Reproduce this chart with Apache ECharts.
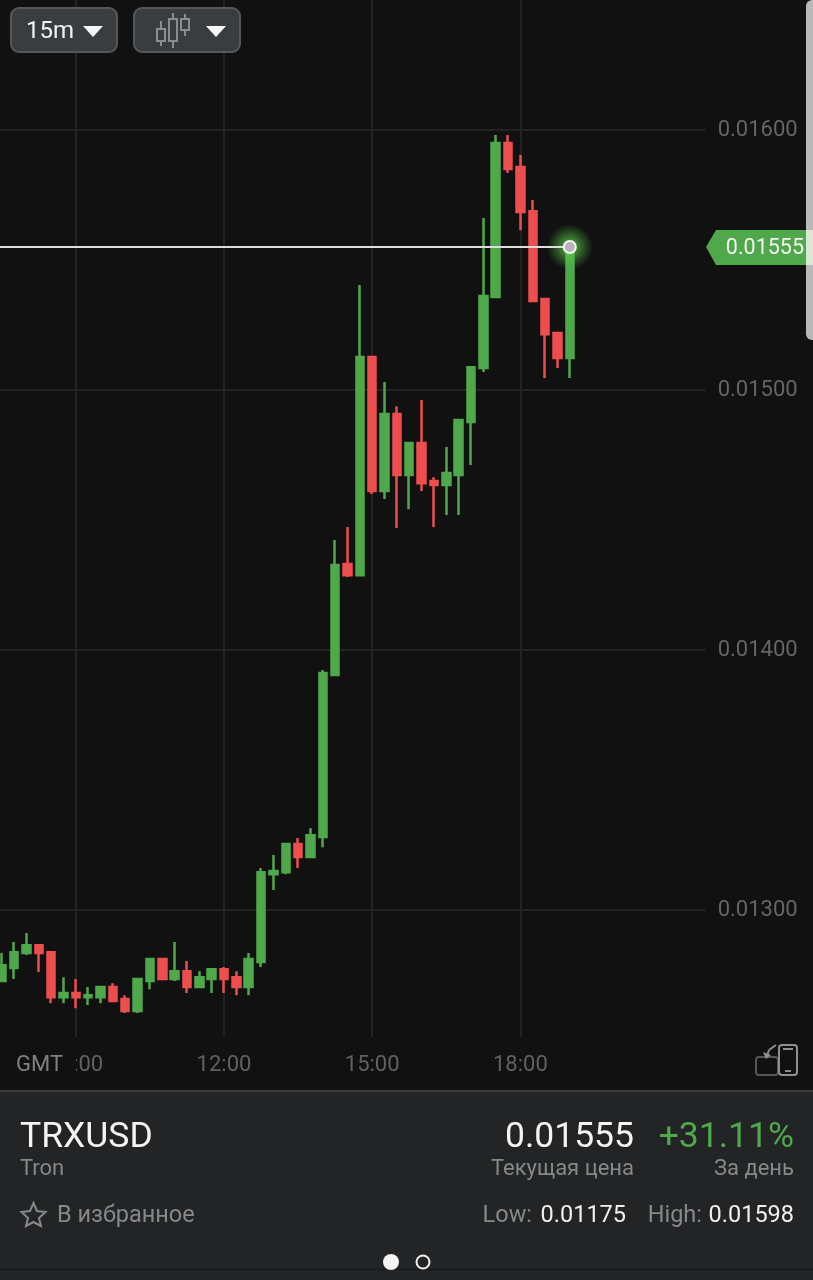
<!DOCTYPE html>
<html>
<head>
<meta charset="utf-8">
<title>TRXUSD</title>
<script src="https://cdn.jsdelivr.net/npm/echarts@6/dist/echarts.min.js"></script>
<style>
html, body { margin: 0; padding: 0; background: #111112; }
#chart { width: 813px; height: 1280px; }
</style>
</head>
<body>
<div id="chart"></div>
<script>
// 15m candles, the first category is an empty slot left of the screen
var times = ['07:15', '07:30', '07:45', '08:00', '08:15', '08:30', '08:45', '09:00', '09:15', '09:30', '09:45', '10:00', '10:15', '10:30', '10:45', '11:00', '11:15', '11:30', '11:45', '12:00', '12:15', '12:30', '12:45', '13:00', '13:15', '13:30', '13:45', '14:00', '14:15', '14:30', '14:45', '15:00', '15:15', '15:30', '15:45', '16:00', '16:15', '16:30', '16:45', '17:00', '17:15', '17:30', '17:45', '18:00', '18:15', '18:30', '18:45', '19:00', '19:15', '19:30', '19:45', '20:00', '20:15', '20:30', '20:45', '21:00', '21:15', '21:30', '21:45'];
var opens = [0.012727, 0.012777, 0.012835, 0.012865, 0.012838, 0.012665, 0.012681, 0.012665, 0.012665, 0.012704, 0.012658, 0.012612, 0.012727, 0.012812, 0.012735, 0.012765, 0.012704, 0.012735, 0.012773, 0.012742, 0.012704, 0.012800, 0.013138, 0.013146, 0.013254, 0.013204, 0.013281, 0.013904, 0.014331, 0.014288, 0.015127, 0.014612, 0.014908, 0.014673, 0.014796, 0.014650, 0.014635, 0.014673, 0.014877, 0.015085, 0.015358, 0.015950, 0.015858, 0.015688, 0.015350, 0.015219, 0.015123];
var closes = [0.012788, 0.012838, 0.012865, 0.012835, 0.012665, 0.012681, 0.012665, 0.012673, 0.012704, 0.012650, 0.012612, 0.012735, 0.012812, 0.012735, 0.012765, 0.012704, 0.012742, 0.012773, 0.012735, 0.012704, 0.012812, 0.013146, 0.013150, 0.013254, 0.013204, 0.013288, 0.013912, 0.014327, 0.014288, 0.015127, 0.014612, 0.014908, 0.014673, 0.014796, 0.014642, 0.014635, 0.014681, 0.014885, 0.015088, 0.015362, 0.015950, 0.015850, 0.015685, 0.015342, 0.015215, 0.015123, 0.015550];
var lows = [0.012727, 0.012735, 0.012827, 0.012762, 0.012642, 0.012642, 0.012623, 0.012635, 0.012642, 0.012650, 0.012604, 0.012604, 0.012696, 0.012735, 0.012727, 0.012681, 0.012704, 0.012681, 0.012681, 0.012673, 0.012673, 0.012781, 0.013077, 0.013138, 0.013162, 0.013204, 0.013242, 0.013904, 0.014281, 0.014288, 0.014600, 0.014581, 0.014469, 0.014542, 0.014612, 0.014473, 0.014519, 0.014519, 0.014712, 0.015069, 0.015358, 0.015835, 0.015615, 0.015342, 0.015046, 0.015085, 0.015046];
var highs = [0.012835, 0.012877, 0.012912, 0.012865, 0.012838, 0.012742, 0.012735, 0.012704, 0.012704, 0.012719, 0.012673, 0.012735, 0.012812, 0.012812, 0.012877, 0.012804, 0.012765, 0.012773, 0.012781, 0.012765, 0.012835, 0.013162, 0.013212, 0.013254, 0.013277, 0.013315, 0.013923, 0.014423, 0.014473, 0.015404, 0.015127, 0.015031, 0.014938, 0.014796, 0.014962, 0.014665, 0.014781, 0.014885, 0.015088, 0.015662, 0.015981, 0.015981, 0.015904, 0.015731, 0.015350, 0.015219, 0.015550];
var priceTicks = [0.013, 0.014, 0.015, 0.016];
var timeTicks = ['09:00', '12:00', '15:00', '18:00'];
var lastPrice = 0.01555;
var lastTime = '19:00';

var GREEN = '#4fa94b';
var RED = '#ee4e4e';
var PANEL = '#232426';
var GRAY = '#868889';
var BG = '#111112';
var FONT = 'Roboto';

var candles = [['-', '-', '-', '-']];
for (var i = 0; i < opens.length; i++) {
	candles.push([opens[i], closes[i], lows[i], highs[i]]);
}

function isTimeTick(index, value) {
	return timeTicks.indexOf(value) >= 0;
}

function txt(x, y, text, size, color, align) {
	return {
		type: 'text',
		x: x,
		y: y,
		z: 20,
		style: {
			text: text,
			fontFamily: FONT,
			fontSize: size,
			fill: color,
			align: align || 'left',
			verticalAlign: 'middle'
		}
	};
}

function box(x, y, w, h, fill, stroke, r) {
	return {
		type: 'rect',
		z: 10,
		shape: { x: x, y: y, width: w, height: h, r: r || 0 },
		style: { fill: fill, stroke: stroke || null, lineWidth: stroke ? 2 : 0 }
	};
}

function poly(points, fill) {
	return { type: 'polygon', z: 20, shape: { points: points }, style: { fill: fill } };
}

function seg(x1, y1, x2, y2, color, width) {
	return {
		type: 'line',
		z: 20,
		shape: { x1: x1, y1: y1, x2: x2, y2: y2 },
		style: { stroke: color, lineWidth: width || 2 }
	};
}

// small candle icon of the second button
function iconCandle(x, wickTop, bodyTop, bodyBottom, wickBottom) {
	return [
		seg(x, wickTop, x, bodyTop, '#8a8c8d'),
		seg(x, bodyBottom, x, wickBottom, '#8a8c8d'),
		{
			type: 'rect',
			z: 20,
			shape: { x: x - 4, y: bodyTop, width: 8, height: bodyBottom - bodyTop },
			style: { fill: 'none', stroke: '#8a8c8d', lineWidth: 2 }
		}
	];
}

var overlay = [
	// toolbar
	box(11, 8, 106, 44, '#3a3d40', '#55585a', 8),
	txt(26, 32, '15m', 24, '#f2f2f2'),
	poly([[83, 26], [103, 26], [93, 37]], '#f5f5f5'),
	box(134, 8, 106, 44, '#3a3d40', '#55585a', 8),
	poly([[206, 26], [226, 26], [216, 37]], '#f5f5f5'),
	// scroll handle and price tag
	poly([[706, 247], [716, 230], [806, 230], [806, 265], [716, 265]], GREEN),
	txt(804, 249, lastPrice.toFixed(5), 21.5, '#f4f4f4', 'right'),
	{
		type: 'rect',
		z: 15,
		shape: { x: 806, y: 0, width: 12, height: 340, r: 6 },
		style: { fill: '#b8b8b8' }
	},
	{
		type: 'rect',
		z: 16,
		shape: { x: 806, y: 230, width: 7, height: 35 },
		style: { fill: '#d9e8d4' }
	},
	// GMT hides the 09 of the first time label
	box(0, 1045, 76, 36, BG),
	txt(16, 1065, 'GMT', 22, '#7e8081'),
	// rotate icon
	{
		type: 'rect',
		z: 20,
		shape: { x: 779, y: 1045, width: 18, height: 30, r: 3 },
		style: { fill: 'none', stroke: '#8d8f90', lineWidth: 2 }
	},
	seg(783, 1049, 793, 1049, '#8d8f90'),
	seg(785, 1071, 791, 1071, '#8d8f90'),
	{
		type: 'rect',
		z: 19,
		shape: { x: 756, y: 1057, width: 22, height: 18, r: 3 },
		style: { fill: 'none', stroke: '#555758', lineWidth: 2 }
	},
	seg(776, 1045, 769, 1050, '#8d8f90'),
	seg(769, 1050, 767, 1056, '#8d8f90'),
	poly([[763, 1052], [771, 1055], [766, 1059]], '#8d8f90'),
	// bottom panel
	box(0, 1090, 813, 190, PANEL),
	box(0, 1090, 813, 2, '#3b3c3e'),
	box(0, 1269, 813, 1, '#141516'),
	txt(20, 1138, 'TRXUSD', 35.5, '#f4f4f4'),
	txt(20, 1169, 'Tron', 22, GRAY),
	txt(634, 1138, lastPrice.toFixed(5), 35.5, '#f4f4f4', 'right'),
	txt(794, 1138, '+31.11%', 35.5, GREEN, 'right'),
	txt(634, 1169, 'Текущая цена', 22, GRAY, 'right'),
	txt(794, 1169, 'За день', 22, GRAY, 'right'),
	{
		type: 'polygon',
		z: 20,
		shape: { points: [[33.5, 1203], [37, 1211], [45.5, 1212], [39, 1218], [41, 1226], [33.5, 1222], [26, 1226], [28, 1218], [21.5, 1212], [30, 1211]] },
		style: { fill: 'none', stroke: GRAY, lineWidth: 2 }
	},
	txt(57, 1216, 'В избранное', 23.5, GRAY),
	txt(532, 1216, 'Low:', 23.5, GRAY, 'right'),
	txt(626, 1216, '0.01175', 23.5, '#f0f0f0', 'right'),
	txt(702, 1216, 'High:', 23.5, GRAY, 'right'),
	txt(794, 1216, '0.01598', 23.5, '#f0f0f0', 'right'),
	{
		type: 'circle',
		z: 20,
		shape: { cx: 391, cy: 1262, r: 8 },
		style: { fill: '#f4f4f4' }
	},
	{
		type: 'circle',
		z: 20,
		shape: { cx: 423, cy: 1262, r: 6.5 },
		style: { fill: 'none', stroke: '#f0f0f0', lineWidth: 2 }
	}
];
overlay = overlay.concat(
	iconCandle(161, 21, 29, 41, 46),
	iconCandle(173, 13, 19, 41, 48),
	iconCandle(185, 14, 19, 30, 36)
);

var chart = echarts.init(document.getElementById('chart'));
chart.setOption({
	backgroundColor: BG,
	animation: false,
	grid: { left: -10.65, top: 0, width: 716.3, height: 1037, outerBoundsMode: 'none' },
	xAxis: {
		type: 'category',
		data: times,
		boundaryGap: false,
		axisLine: { show: false },
		axisTick: { show: false, interval: isTimeTick },
		axisLabel: {
			interval: isTimeTick,
			margin: 17,
			color: '#5f6162',
			fontFamily: FONT,
			fontSize: 22
		},
		splitLine: {
			show: true,
			interval: isTimeTick,
			lineStyle: { color: '#232323', width: 2 }
		}
	},
	yAxis: {
		type: 'value',
		position: 'right',
		min: 0.012512,
		max: 0.0165,
		axisLine: { show: false },
		axisTick: { show: false, customValues: priceTicks },
		axisLabel: {
			customValues: priceTicks,
			margin: 12,
			color: '#636566',
			fontFamily: FONT,
			fontSize: 22,
			padding: [4, 0, 0, 0],
			formatter: function (v) {
				return v.toFixed(5);
			}
		},
		splitLine: {
			show: true,
			lineStyle: { color: '#232323', width: 2 }
		}
	},
	series: [
		{
			type: 'candlestick',
			data: candles,
			barWidth: 8,
			itemStyle: {
				color: GREEN,
				color0: RED,
				borderColor: GREEN,
				borderColor0: RED,
				borderWidth: 2.5
			},
			markLine: {
				silent: true,
				symbol: 'none',
				label: { show: false },
				lineStyle: { color: '#dedede', width: 2, type: 'solid' },
				data: [[{ xAxis: times[0], yAxis: lastPrice }, { xAxis: lastTime, yAxis: lastPrice }]]
			}
		},
		{
			// glow behind the last price dot
			type: 'scatter',
			data: [[lastTime, lastPrice]],
			symbolSize: 46,
			z: 4,
			itemStyle: {
				opacity: 1,
				color: {
					type: 'radial',
					x: 0.5,
					y: 0.5,
					r: 0.5,
					colorStops: [
						{ offset: 0, color: 'rgba(110, 225, 85, 0.95)' },
						{ offset: 0.35, color: 'rgba(90, 200, 70, 0.6)' },
						{ offset: 1, color: 'rgba(80, 180, 70, 0)' }
					]
				}
			}
		},
		{
			type: 'scatter',
			data: [[lastTime, lastPrice]],
			symbolSize: 12,
			z: 5,
			itemStyle: {
				opacity: 1,
				color: '#b9b4bc',
				borderColor: '#f4f4f4',
				borderWidth: 2
			}
		}
	],
	graphic: overlay
});
</script>
</body>
</html>
